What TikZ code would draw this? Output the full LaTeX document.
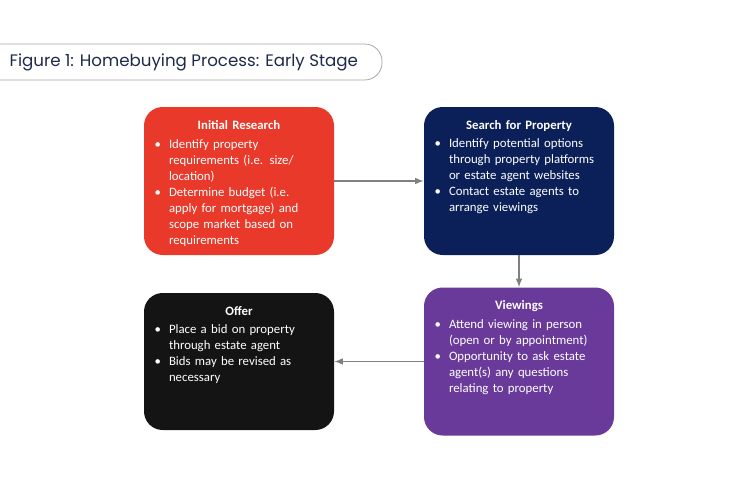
\documentclass[tikz,border=0pt]{standalone}
\usepackage{fontspec}
\setmainfont{Carlito}
\newfontfamily\titlefont{Poppins}
\usepackage{enumitem}
\usetikzlibrary{positioning}

\definecolor{resred}{HTML}{E8392A}
\definecolor{resnavy}{HTML}{0B2058}
\definecolor{respurple}{HTML}{6A3A9A}
\definecolor{resblack}{HTML}{141414}
\definecolor{resgrey}{HTML}{808080}
\definecolor{restitle}{HTML}{1E2A4A}

\tikzset{
  stage/.style={rounded corners=14pt, minimum width=142.5pt, minimum height=111pt, inner sep=0pt},
  stagetext/.style={anchor=north, text=white, text width=126pt, font=\fontsize{9.6}{12}\selectfont, inner sep=0pt},
  flow/.style={draw=resgrey, line width=1.2pt, -latex}
}
\newcommand{\stagebody}[2]{\centering\textbf{#1}\par
  \begin{itemize}[leftmargin=10.5pt, labelsep=6pt, itemsep=0pt, topsep=0pt, parsep=0pt]\raggedright #2\end{itemize}}

\begin{document}
\begin{tikzpicture}[x=0.75pt, y=-0.75pt]
  \useasboundingbox (0,0) rectangle (750,500);
  % title
  \draw[draw=gray!70, line width=0.6pt, rounded corners=13pt] (-20,44) -- (382,44) -- (382,80) -- (-20,80);
  \node[anchor=west, text=restitle, font=\titlefont\fontsize{12.5}{14}\selectfont] (title) at (5,62) {Figure 1: Homebuying Process: Early Stage};

  % boxes
  \node[stage, fill=resred] (research) at (239,181) {};
  \node[stage, fill=resnavy] (search) at (519,181) {};
  \node[stage, fill=respurple] (viewings) at (519,361.5) {};
  \node[stage, minimum height=102.75pt, fill=resblack] (offer) at (239,361.5) {};

  \node[stagetext] at ([yshift=-10pt]research.north) {\stagebody{Initial Research}{%
    \item Identify property requirements (i.e. size/ location)
    \item Determine budget (i.e. apply for mortgage) and scope market based on requirements}};
  \node[stagetext] at ([yshift=-10pt]search.north) {\stagebody{Search for Property}{%
    \item Identify potential options through property platforms or estate agent websites
    \item Contact estate agents to arrange viewings}};
  \node[stagetext] at ([yshift=-10pt]viewings.north) {\stagebody{Viewings}{%
    \item Attend viewing in person (open or by appointment)
    \item Opportunity to ask estate agent(s) any questions relating to property}};
  \node[stagetext] at ([yshift=-10pt]offer.north) {\stagebody{Offer}{%
    \item Place a bid on property through estate agent
    \item Bids may be revised as necessary}};

  % connectors
  \draw[flow] (research) -- (search);
  \draw[flow] (search) -- (viewings);
  \draw[flow] (viewings) -- (offer);
\end{tikzpicture}
\end{document}
